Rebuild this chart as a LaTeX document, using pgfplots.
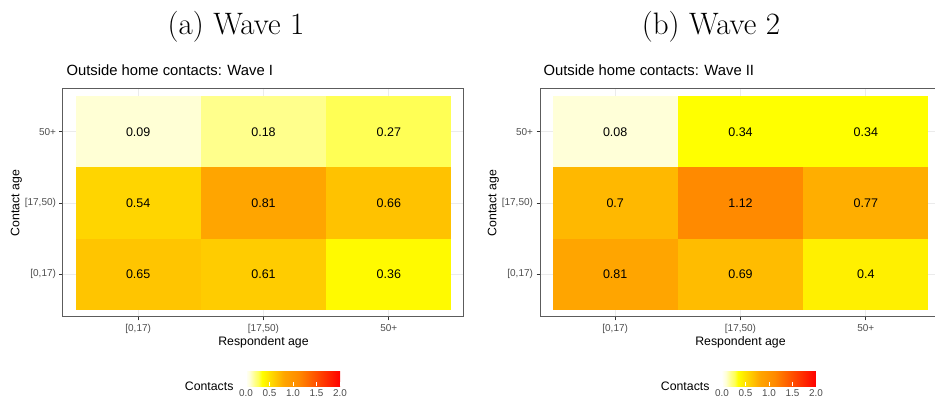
\documentclass[border=0pt]{standalone}
\usepackage{pgfplots}
\pgfplotsset{compat=1.18}
\usepackage{fontspec}
\newfontfamily\arial{Liberation Sans}
\definecolor{gridc}{HTML}{EBEBEB}
\definecolor{tickc}{HTML}{4D4D4D}
\definecolor{framec}{HTML}{333333}

% fill colours of the contact scale (0 = pale yellow ... 2 = red)
\definecolor{v008}{HTML}{FFFFD8}
\definecolor{v009}{HTML}{FFFFD5}
\definecolor{v018}{HTML}{FFFF8C}
\definecolor{v027}{HTML}{FFFF55}
\definecolor{v034}{HTML}{FFFF00}
\definecolor{v036}{HTML}{FFFA00}
\definecolor{v040}{HTML}{FFF000}
\definecolor{v054}{HTML}{FFD500}
\definecolor{v061}{HTML}{FFCC00}
\definecolor{v065}{HTML}{FFC500}
\definecolor{v066}{HTML}{FFC200}
\definecolor{v069}{HTML}{FFBC00}
\definecolor{v070}{HTML}{FFB800}
\definecolor{v077}{HTML}{FFAE00}
\definecolor{v081}{HTML}{FFA500}
\definecolor{v112}{HTML}{FF8A00}

% one tile: x from #1 to #2, y from #3 to #4, centre (#5,#6), colour #7, value #8
\newcommand\tile[8]{%
  \addplot[draw=none, fill=#7, forget plot]
    coordinates {(#1,#3) (#2,#3) (#2,#4) (#1,#4)} -- cycle;
  \node[anchor=center, text=black, font=\arial\fontsize{12.5}{14}\selectfont]
    at (axis cs:#5,#6) {#8};
}

\pgfplotsset{
  colormap={contacts}{rgb255(0)=(255,255,250) rgb255(8)=(255,255,216)
    rgb255(18)=(255,255,140) rgb255(27)=(255,255,85) rgb255(34)=(255,255,0)
    rgb255(81)=(255,165,0) rgb255(112)=(255,138,0) rgb255(200)=(255,0,0)},
  heat/.style={
    width=401pt, height=228pt, scale only axis,
    xmin=0.4, xmax=3.6, ymin=0.4, ymax=3.6,
    xtick={1,2,3}, ytick={1,2,3},
    xticklabels={{[0,17)},{[17,50)},{50+}},
    yticklabels={{[0,17)},{[17,50)},{50+}},
    tick label style={font=\arial\fontsize{10}{12}\selectfont, text=tickc},
    tick align=outside, tick pos=left, major tick length=3.5pt,
    major tick style={framec, line width=0.8pt},
    axis line style={framec!80, line width=1pt},
    grid=major, major grid style={gridc, line width=0.9pt},
    point meta min=0, point meta max=2,
    colormap name=contacts,
    xlabel={Respondent age}, ylabel={Contact age},
    label style={font=\arial\fontsize{12.3}{14}\selectfont},
    xlabel style={at={(axis description cs:0.5,-0.127)}, anchor=base},
    ylabel style={at={(axis description cs:-0.1085,0.5)}, anchor=base},
    title style={at={(axis description cs:0,1.0307)}, anchor=base west,
      yshift=0pt, font=\arial\fontsize{14.8}{17}\selectfont},
    colorbar horizontal,
    colorbar style={
      anchor=center, width=94pt, height=19pt, scale only axis,
      xtick={0,0.5,1,1.5,2},
      xticklabels={0.0,0.5,1.0,1.5,2.0},
      xticklabel style={font=\arial\fontsize{9.9}{11}\selectfont, text=tickc},
      axis line style={draw=none},
      major tick style={white, line width=0.6pt},
      major tick length=3.8pt, tick align=inside,
      xtick pos=both, xticklabel pos=lower,
      ytick=\empty,
    },
  },
}

\begin{document}
\begin{tikzpicture}
% x = respondent age group, y = contact age group
\begin{axis}[heat, at={(63pt,92pt)}, anchor=south west,
  title={Outside home contacts: Wave I},
  colorbar style={at={(0.5736,-0.261)}}]
  \tile{0.5}{1.5}{0.5}{1.5}{1}{1}{v065}{0.65}
  \tile{1.5}{2.5}{0.5}{1.5}{2}{1}{v061}{0.61}
  \tile{2.5}{3.5}{0.5}{1.5}{3}{1}{v036}{0.36}
  \tile{0.5}{1.5}{1.5}{2.5}{1}{2}{v054}{0.54}
  \tile{1.5}{2.5}{1.5}{2.5}{2}{2}{v081}{0.81}
  \tile{2.5}{3.5}{1.5}{2.5}{3}{2}{v066}{0.66}
  \tile{0.5}{1.5}{2.5}{3.5}{1}{3}{v009}{0.09}
  \tile{1.5}{2.5}{2.5}{3.5}{2}{3}{v018}{0.18}
  \tile{2.5}{3.5}{2.5}{3.5}{3}{3}{v027}{0.27}
\end{axis}
\begin{axis}[heat, at={(540pt,92pt)}, anchor=south west,
  title={Outside home contacts: Wave II},
  colorbar style={at={(0.571,-0.261)}}]
  \tile{0.5}{1.5}{0.5}{1.5}{1}{1}{v081}{0.81}
  \tile{1.5}{2.5}{0.5}{1.5}{2}{1}{v069}{0.69}
  \tile{2.5}{3.5}{0.5}{1.5}{3}{1}{v040}{0.4}
  \tile{0.5}{1.5}{1.5}{2.5}{1}{2}{v070}{0.7}
  \tile{1.5}{2.5}{1.5}{2.5}{2}{2}{v112}{1.12}
  \tile{2.5}{3.5}{1.5}{2.5}{3}{2}{v077}{0.77}
  \tile{0.5}{1.5}{2.5}{3.5}{1}{3}{v008}{0.08}
  \tile{1.5}{2.5}{2.5}{3.5}{2}{3}{v034}{0.34}
  \tile{2.5}{3.5}{2.5}{3.5}{3}{3}{v034}{0.34}
\end{axis}
\node[anchor=base east, font=\arial\fontsize{12.3}{14}\selectfont] at (237pt,18pt) {Contacts};
\node[anchor=base east, font=\arial\fontsize{12.3}{14}\selectfont] at (713pt,18pt) {Contacts};
\node[anchor=base, font=\fontsize{31}{37}\selectfont] at (236pt,374.5pt) {(a) Wave 1};
\node[anchor=base, font=\fontsize{31}{37}\selectfont] at (711pt,374.5pt) {(b) Wave 2};
\pgfresetboundingbox
\useasboundingbox (0,0) rectangle (935pt,409pt);
\end{tikzpicture}
\end{document}
